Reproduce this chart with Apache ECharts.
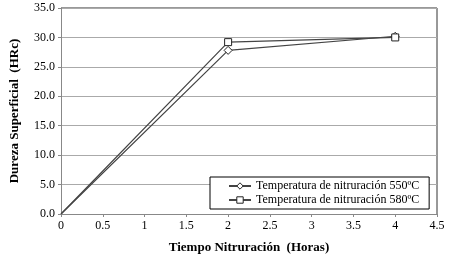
<!DOCTYPE html>
<html>
<head>
<meta charset="utf-8">
<script src="https://cdn.jsdelivr.net/npm/echarts@6/dist/echarts.min.js"></script>
<style>
  html, body { margin: 0; padding: 0; background: #fff; }
  #chart { width: 452px; height: 255px; }
</style>
</head>
<body>
<div id="chart"></div>
<script>
const horas = [0, 2, 4];
const temp550 = [0, 27.8, 30.2];
const temp580 = [0, 29.2, 30.0];
const nombres = ['Temperatura de nitruración 550ºC', 'Temperatura de nitruración 580ºC'];

const fuente = '"Liberation Serif", "Times New Roman", serif';
const chart = echarts.init(document.getElementById('chart'));

// no marker at the origin, as in the original
const toPairs = (ys) => horas.map((x, i) => i === 0
    ? { value: [x, ys[i]], symbol: 'none' }
    : [x, ys[i]]);

chart.setOption({
    animation: false,
    textStyle: { fontFamily: fuente },
    grid: { left: 61, right: 15, top: 8, bottom: 41, outerBoundsMode: 'none', containLabel: false },
    legend: {
        orient: 'vertical',
        left: 210,
        top: 177,
        itemGap: 2,
        itemWidth: 22,
        itemHeight: 8,
        padding: [3, 10, 3, 18],
        backgroundColor: '#fff',
        borderColor: '#000',
        borderWidth: 1,
        borderRadius: 0,
        itemStyle: { color: '#fff', borderColor: '#222', borderWidth: 1 },
        textStyle: { fontFamily: fuente, fontSize: 12, color: '#000' },
        data: nombres
    },
    xAxis: {
        type: 'value',
        min: 0, max: 4.5, interval: 0.5,
        name: 'Tiempo Nitruración  (Horas)',
        nameLocation: 'middle',
        nameGap: 27,
        nameTextStyle: { fontFamily: fuente, fontWeight: 'bold', fontSize: 13, color: '#000' },
        axisLine: { lineStyle: { color: '#888' } },
        axisTick: { show: true, length: 3, lineStyle: { color: '#888' } },
        axisLabel: { fontFamily: fuente, fontSize: 12, color: '#000', margin: 6 },
        splitLine: { show: false }
    },
    yAxis: {
        type: 'value',
        min: 0, max: 35, interval: 5,
        name: 'Dureza Superficial  (HRc)',
        nameLocation: 'middle',
        nameGap: 40,
        nameTextStyle: { fontFamily: fuente, fontWeight: 'bold', fontSize: 13, color: '#000' },
        axisLine: { show: true, lineStyle: { color: '#888' } },
        axisTick: { show: true, length: 3, lineStyle: { color: '#888' } },
        axisLabel: { fontFamily: fuente, fontSize: 12, color: '#000', margin: 6,
            formatter: v => v.toFixed(1) },
        splitLine: { show: true, lineStyle: { color: '#aaa', width: 1 } }
    },
    graphic: [
        { type: 'line', shape: { x1: 61, y1: 8, x2: 437, y2: 8 }, style: { stroke: '#333', lineWidth: 1 } },
        { type: 'line', shape: { x1: 437, y1: 8, x2: 437, y2: 214 }, style: { stroke: '#333', lineWidth: 1 } }
    ],
    series: [
        {
            name: nombres[0],
            type: 'line',
            data: toPairs(temp550),
            symbol: 'diamond',
            symbolSize: 8,
            lineStyle: { color: '#444', width: 1.2 },
            itemStyle: { color: '#fff', borderColor: '#222', borderWidth: 1 },
            z: 3
        },
        {
            name: nombres[1],
            type: 'line',
            data: toPairs(temp580),
            symbol: 'rect',
            symbolSize: 7,
            lineStyle: { color: '#444', width: 1.2 },
            itemStyle: { color: '#fff', borderColor: '#222', borderWidth: 1 },
            z: 3
        }
    ]
});
</script>
</body>
</html>
